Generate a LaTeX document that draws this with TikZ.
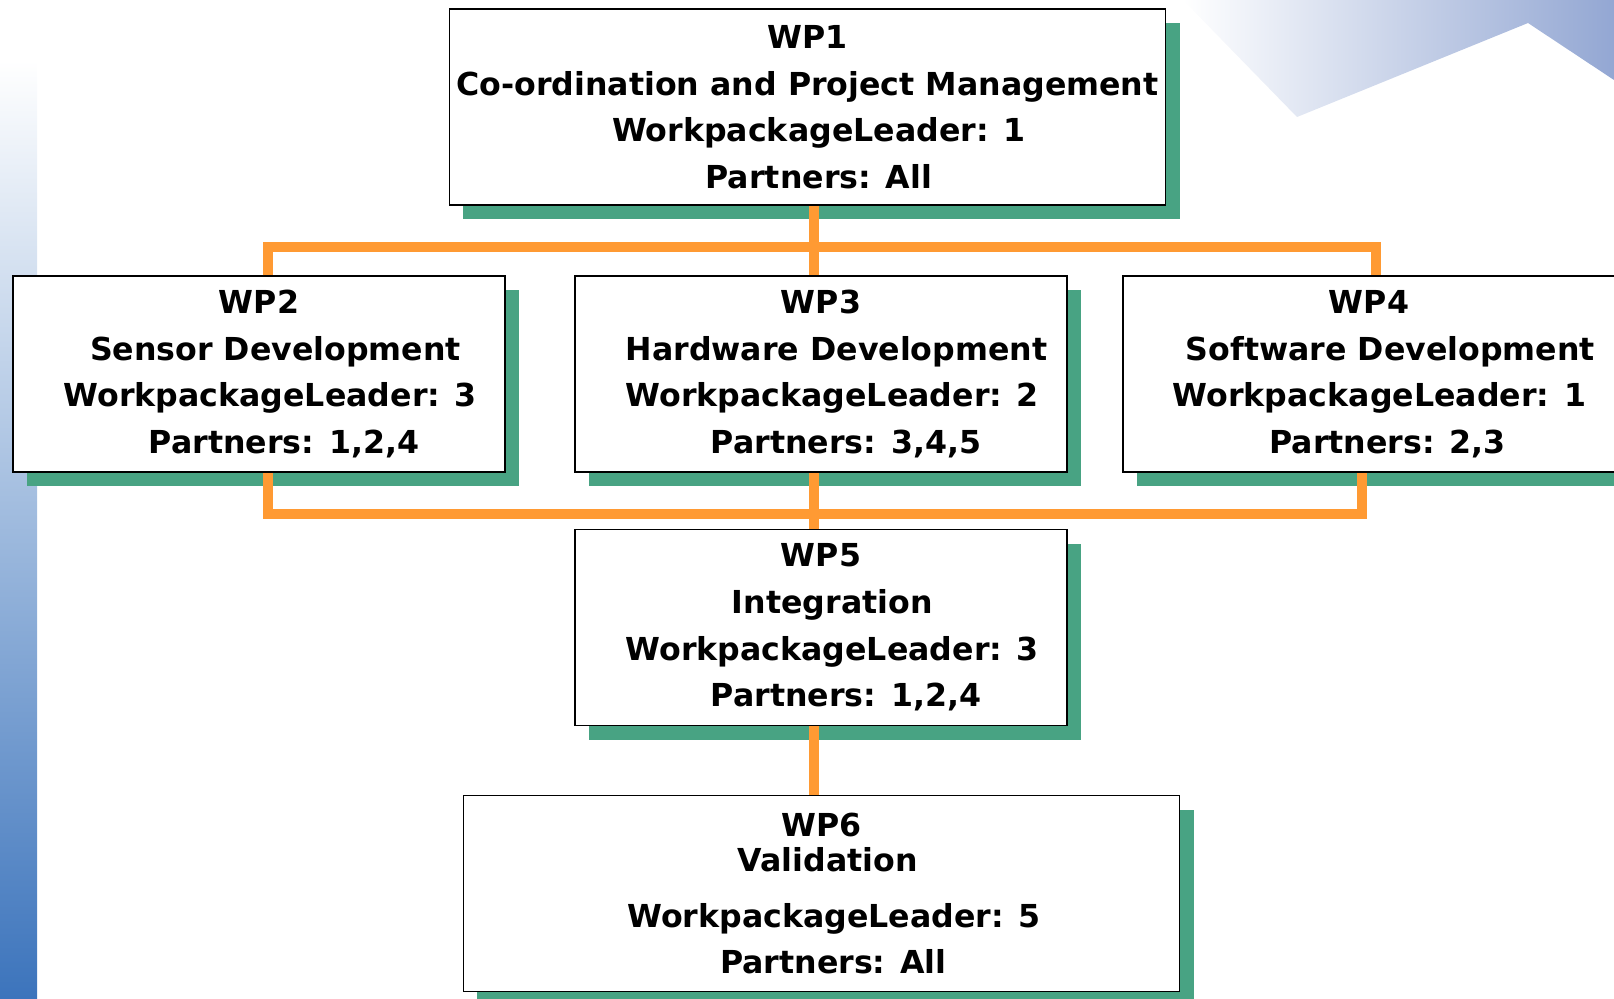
\documentclass[tikz,border=0pt]{standalone}
\usepackage{fontspec}
\setmainfont{DejaVu Sans}
\usetikzlibrary{shadows,positioning}
\definecolor{wpgreen}{HTML}{48A383}
\definecolor{wporange}{HTML}{FF9A33}
\definecolor{bgblue}{HTML}{3C74BC}
\definecolor{bglight}{HTML}{93A7D3}

\begin{document}
\begin{tikzpicture}[x=0.2mm,y=-0.2mm,
  wpbox/.style={draw=black,line width=1.1pt,fill=white,align=center,
    minimum width=9.84cm,minimum height=3.92cm,inner sep=0pt,
    font=\fontsize{18}{26.5}\selectfont\bfseries,
    drop shadow={fill=wpgreen,opacity=1,shadow xshift=0.28cm,shadow yshift=-0.28cm}},
  wide/.style={minimum width=14.32cm},
  link/.style={wporange,line width=0.2cm}]
\useasboundingbox (0,0) rectangle (1614,998);
\shade[top color=white,bottom color=bgblue] (0,60) rectangle (37,998);
\shade[left color=white,right color=bglight] (1183,0) -- (1297,117) -- (1528,23) -- (1614,80) -- (1614,0) -- cycle;

\node[wpbox,wide] (wp1) at (807.5,107) {WP1\\Co-ordination and Project Management\\\hspace*{0.45cm}WorkpackageLeader: 1\\\hspace*{0.45cm}Partners: All};
\node[wpbox] (wp2) at (259,374) {WP2\\\hspace*{0.66cm}Sensor Development\\\hspace*{0.45cm}WorkpackageLeader: 3\\\hspace*{1cm}Partners: 1,2,4};
\node[wpbox] (wp3) at (821,374) {WP3\\\hspace*{0.62cm}Hardware Development\\\hspace*{0.45cm}WorkpackageLeader: 2\\\hspace*{1cm}Partners: 3,4,5};
\node[wpbox] (wp4) at (1369,374) {WP4\\\hspace*{0.86cm}Software Development\\\hspace*{0.42cm}WorkpackageLeader: 1\\\hspace*{0.74cm}Partners: 2,3};
\node[wpbox] (wp5) at (821,627.5) {WP5\\\hspace*{0.45cm}Integration\\\hspace*{0.45cm}WorkpackageLeader: 3\\\hspace*{1cm}Partners: 1,2,4};
\node[wpbox,wide] (wp6) at (821.5,893.5) {WP6\\[-0.22cm]\hspace*{0.25cm}Validation\\[0.18cm]\hspace*{0.5cm}WorkpackageLeader: 5\\\hspace*{0.47cm}Partners: All};

\coordinate (topbus) at (814,247);
\coordinate (lowbus) at (814,514);
\draw[link] (wp1.south -| topbus) -- (topbus);
\draw[link] ([xshift=0.18cm]wp2.north) |- (topbus) -| ([xshift=0.14cm]wp4.north);
\draw[link] (topbus) -- (wp3.north -| topbus);
\draw[link] ([xshift=0.18cm]wp2.south) |- (lowbus) -| ([xshift=-0.14cm]wp4.south);
\draw[link] (wp3.south -| lowbus) -- (wp5.north -| lowbus);
\draw[link] (wp5.south -| lowbus) -- (wp6.north -| lowbus);
\end{tikzpicture}
\end{document}
